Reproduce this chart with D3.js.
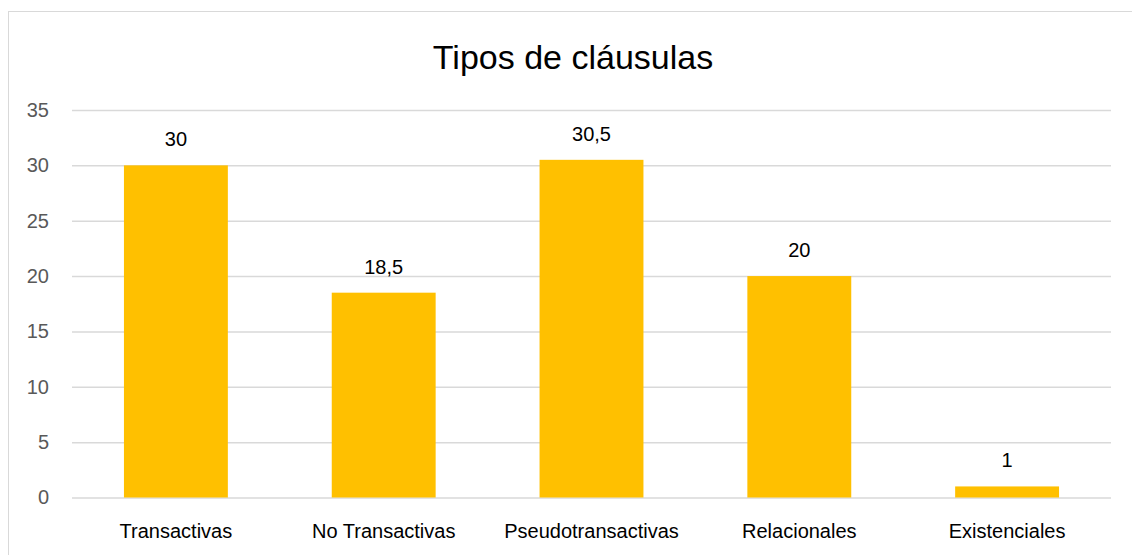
<!DOCTYPE html>
<html><head><meta charset="utf-8">
<script src="https://cdn.jsdelivr.net/npm/d3@7"></script>
<style>body{margin:0;background:#fff}svg{display:block}text{font-family:"Liberation Sans",Arial,sans-serif}</style>
</head><body>
<svg id="c" width="1132" height="555"></svg>
<script>
const categories = ["Transactivas","No Transactivas","Pseudotransactivas","Relacionales","Existenciales"];
const values = [30, 18.5, 30.5, 20, 1];
const valueLabels = ["30","18,5","30,5","20","1"];
const yTicks = [0,5,10,15,20,25,30,35];
const title = "Tipos de cláusulas";

const svg = d3.select("#c");
svg.append("rect").attr("x",8.5).attr("y",11.5).attr("width",1200).attr("height",600)
  .attr("fill","#fff").attr("stroke","#d9d9d9").attr("stroke-width",1);

const x = d3.scaleBand().domain(categories).range([72,1111]).paddingInner(0.5).paddingOuter(0.25);
const y = d3.scaleLinear().domain([0,35]).range([497.5,110]);

svg.append("text").attr("x",573).attr("y",69).attr("text-anchor","middle")
  .attr("font-size",34).attr("fill","#000").text(title);

const gy = svg.append("g").attr("transform","translate(72,0)")
  .call(d3.axisLeft(y).tickValues(yTicks).tickSize(-(1111-72)).tickPadding(23).tickFormat(d3.format("d")));
gy.select(".domain").remove();
gy.selectAll(".tick line").attr("stroke","#d9d9d9").attr("stroke-width",1.5);
gy.selectAll(".tick text").attr("font-size",20).attr("fill","#595959").attr("font-family","Liberation Sans, Arial, sans-serif");

svg.append("g").selectAll("rect").data(values).join("rect")
  .attr("x",(d,i)=>x(categories[i])).attr("width",x.bandwidth())
  .attr("y",d=>y(d)).attr("height",d=>y(0)-y(d)).attr("fill","#ffc000");

svg.append("g").selectAll("text").data(values).join("text")
  .attr("x",(d,i)=>x(categories[i])+x.bandwidth()/2).attr("y",d=>y(d)-19)
  .attr("text-anchor","middle").attr("font-size",20).attr("fill","#000")
  .text((d,i)=>valueLabels[i]);

const gx = svg.append("g").attr("transform","translate(0,497.5)")
  .call(d3.axisBottom(x).tickSize(0).tickPadding(26));
gx.select(".domain").remove();
gx.selectAll(".tick text").attr("font-size",20).attr("fill","#000").attr("font-family","Liberation Sans, Arial, sans-serif");
</script>
</body></html>
